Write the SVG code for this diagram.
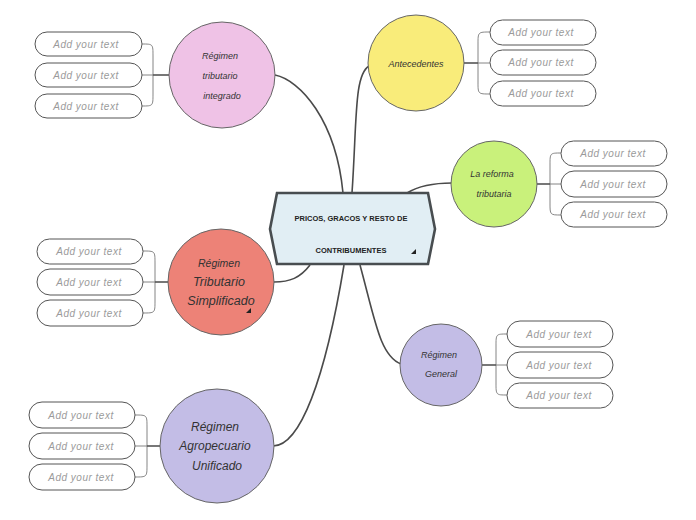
<svg xmlns="http://www.w3.org/2000/svg" width="696" height="520" viewBox="0 0 696 520">
<style>
.pill{fill:#fff;stroke:#555;stroke-width:1}
.ph{font-family:"Liberation Sans","DejaVu Sans",sans-serif;font-style:italic;font-size:10px;fill:#9a9a9a;text-anchor:middle;letter-spacing:0.5px}
.br{fill:none;stroke:#777;stroke-width:0.9}
.stem{fill:none;stroke:#555;stroke-width:1.6}
.conn{fill:none;stroke:#4a4a4a;stroke-width:1.6}
.circ{stroke:#666;stroke-width:1}
.ct{font-family:"Liberation Sans","DejaVu Sans",sans-serif;font-style:italic;fill:#333;text-anchor:middle}
.hex{fill:#e1eef4;stroke:#484d50;stroke-width:2.6}
.cen{font-family:"Liberation Sans","DejaVu Sans",sans-serif;font-weight:bold;font-size:7.5px;fill:#222;text-anchor:middle}
</style>
<g id="connectors">
<path class="conn" d="M343,193 C336,120 300,80 275,75"/>
<path class="conn" d="M352,193 C357,120 354,75 369,66"/>
<path class="conn" d="M407,193 C420,185 435,183 452,183"/>
<path class="conn" d="M310,265 C300,278 290,282 274,282"/>
<path class="conn" d="M344,265 C325,380 300,446 273,446"/>
<path class="conn" d="M360,265 C375,320 380,356 401,364"/>
</g>
<g id="central">
<polygon class="hex" points="277,193 428,193 435,229 428,264 277,264 270,229"/>
<text class="cen" x="351" y="221">PRICOS, GRACOS Y RESTO DE</text>
<text class="cen" x="351" y="253">CONTRIBUMENTES</text>
<polygon points="411,254 416,254 416,249" fill="#222"/>
</g>
<g id="integrado">
<path class="br" d="M142,44 C153,44 153,44 153,56 L153,94 C153,106 153,106 142,106"/>
<path class="br" d="M142,75 L153,75"/>
<path class="stem" d="M153,75 L169,75"/>
<circle class="circ" cx="222" cy="75" r="53" fill="#efc2e6"/>
<text class="ct" x="220" y="59" font-size="9">Régimen</text>
<text class="ct" x="220" y="79" font-size="9">tributario</text>
<text class="ct" x="222" y="99" font-size="9">integrado</text>
<rect class="pill" x="35" y="32" width="107" height="24" rx="12"/>
<text class="ph" x="86" y="48">Add your text</text>
<rect class="pill" x="35" y="63" width="107" height="24" rx="12"/>
<text class="ph" x="86" y="79">Add your text</text>
<rect class="pill" x="35" y="94" width="107" height="24" rx="12"/>
<text class="ph" x="86" y="110">Add your text</text>
</g>
<g id="antecedentes">
<path class="br" d="M490,32 C478,32 478,32 478,44 L478,82 C478,94 478,94 490,94"/>
<path class="br" d="M478,63 L490,63"/>
<path class="stem" d="M464,63 L478,63"/>
<circle class="circ" cx="416" cy="63" r="48" fill="#f9ec7a"/>
<text class="ct" x="416" y="67" font-size="9">Antecedentes</text>
<rect class="pill" x="490" y="20" width="106" height="25" rx="12.5"/>
<text class="ph" x="541" y="36">Add your text</text>
<rect class="pill" x="490" y="50" width="106" height="25" rx="12.5"/>
<text class="ph" x="541" y="66">Add your text</text>
<rect class="pill" x="490" y="81" width="106" height="25" rx="12.5"/>
<text class="ph" x="541" y="97">Add your text</text>
</g>
<g id="reforma">
<path class="br" d="M561,153 C550,153 550,153 550,165 L550,203 C550,215 550,215 561,215"/>
<path class="br" d="M550,184 L561,184"/>
<path class="stem" d="M537,184 L550,184"/>
<circle class="circ" cx="494" cy="184" r="43" fill="#c9f17b"/>
<text class="ct" x="492" y="177" font-size="9">La reforma</text>
<text class="ct" x="494" y="197" font-size="9">tributaria</text>
<rect class="pill" x="561" y="141" width="106" height="25" rx="12.5"/>
<text class="ph" x="613" y="157">Add your text</text>
<rect class="pill" x="561" y="171" width="106" height="26" rx="13"/>
<text class="ph" x="613" y="188">Add your text</text>
<rect class="pill" x="561" y="202" width="106" height="25" rx="12.5"/>
<text class="ph" x="613" y="218">Add your text</text>
</g>
<g id="simplificado">
<path class="br" d="M143,251 C155,251 155,251 155,263 L155,301 C155,313 155,313 143,313"/>
<path class="br" d="M143,282 L155,282"/>
<path class="stem" d="M155,282 L168,282"/>
<circle class="circ" cx="221" cy="282" r="53" fill="#ed8277"/>
<text class="ct" x="219" y="267" font-size="10.5">Régimen</text>
<text class="ct" x="219" y="286" font-size="12.5">Tributario</text>
<text class="ct" x="221" y="305" font-size="12.5">Simplificado</text>
<polygon points="246,313 251,313 251,308" fill="#222"/>
<rect class="pill" x="37" y="239" width="106" height="25" rx="12.5"/>
<text class="ph" x="89" y="255">Add your text</text>
<rect class="pill" x="37" y="269" width="106" height="26" rx="13"/>
<text class="ph" x="89" y="286">Add your text</text>
<rect class="pill" x="37" y="300" width="106" height="26" rx="13"/>
<text class="ph" x="89" y="317">Add your text</text>
</g>
<g id="general">
<path class="br" d="M507,334 C496,334 496,334 496,346 L496,383 C496,395 496,395 507,395"/>
<path class="br" d="M496,365 L507,365"/>
<path class="stem" d="M482,365 L496,365"/>
<circle class="circ" cx="441" cy="365" r="41" fill="#c3bde6"/>
<text class="ct" x="439" y="358" font-size="9">Régimen</text>
<text class="ct" x="441" y="377" font-size="9">General</text>
<rect class="pill" x="507" y="321" width="106" height="26" rx="13"/>
<text class="ph" x="559" y="338">Add your text</text>
<rect class="pill" x="507" y="352" width="106" height="26" rx="13"/>
<text class="ph" x="559" y="369">Add your text</text>
<rect class="pill" x="507" y="383" width="106" height="25" rx="12.5"/>
<text class="ph" x="559" y="399">Add your text</text>
</g>
<g id="agropecuario">
<path class="br" d="M135,415 C147,415 147,415 147,427 L147,465 C147,477 147,477 135,477"/>
<path class="br" d="M135,446 L147,446"/>
<path class="stem" d="M147,446 L160,446"/>
<circle class="circ" cx="217" cy="446" r="57" fill="#c3bde6"/>
<text class="ct" x="215" y="431" font-size="12">Régimen</text>
<text class="ct" x="215" y="450" font-size="12">Agropecuario</text>
<text class="ct" x="217" y="470" font-size="12">Unificado</text>
<rect class="pill" x="29" y="402" width="106" height="26" rx="13"/>
<text class="ph" x="81" y="419">Add your text</text>
<rect class="pill" x="29" y="433" width="106" height="26" rx="13"/>
<text class="ph" x="81" y="450">Add your text</text>
<rect class="pill" x="29" y="464" width="106" height="26" rx="13"/>
<text class="ph" x="81" y="481">Add your text</text>
</g>
</svg>
